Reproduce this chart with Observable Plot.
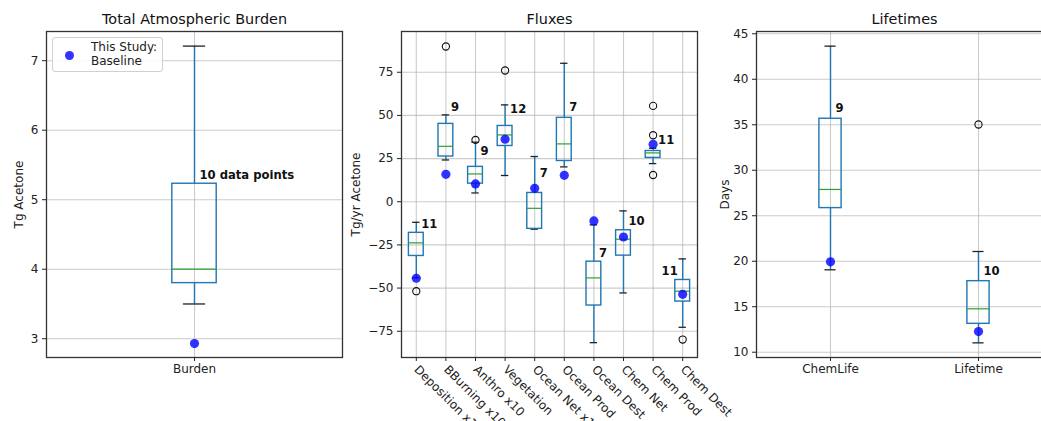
<!DOCTYPE html>
<html><head><meta charset="utf-8">
<script src="https://cdn.jsdelivr.net/npm/d3@7"></script>
<script src="https://cdn.jsdelivr.net/npm/@observablehq/plot@0.6"></script>
<style>
body{margin:0;background:#fff;font-family:"DejaVu Sans",sans-serif;}
#wrap{position:relative;width:1041px;height:421px;overflow:hidden;background:#fff;}
.panel{position:absolute;top:0;}
.panel svg{max-width:none !important;}
#legend{position:absolute;left:52px;top:37px;width:109px;height:33px;border:1px solid #d0d0d0;border-radius:3px;background:rgba(255,255,255,0.85);font:12px "DejaVu Sans";color:#222;}
#legend .dot{position:absolute;left:12px;top:13px;width:9px;height:9px;border-radius:50%;background:rgba(0,0,255,0.8);}
#legend .t{position:absolute;left:38px;line-height:13px;white-space:nowrap;}
</style></head>
<body>
<div id="wrap"></div>
<script>
// ---------- Data ----------
const burdenCats = ["Burden"];
const burdenLo = [3.50];
const burdenQ1 = [3.80];
const burdenMed = [4.00];
const burdenQ3 = [5.23];
const burdenHi = [7.21];
const burdenOutliers = [[]];
const burdenBaseline = [2.93];
const burdenCounts = [10];
const burdenLabelY = [5.35];
const burdenTicks = [3, 4, 5, 6, 7];

const fluxCats = ["Deposition x10","BBurning x10","Anthro x10","Vegetation","Ocean Net x10","Ocean Prod","Ocean Dest","Chem Net","Chem Prod","Chem Dest"];
const fluxLo  = [-44.0, 24.2, 5.1, 15.2, -15.9, 20.2, -81.6, -52.8, 22.1, -72.7];
const fluxQ1  = [-31.4, 26.2, 10.5, 32.3, -15.7, 23.6, -60.1, -31.2, 25.4, -57.8];
const fluxMed = [-23.8, 32.1, 16.1, 38.7, -3.8, 33.5, -44.1, -21.7, 28.3, -51.8];
const fluxQ3  = [-18.0, 45.1, 20.2, 43.9, 5.1, 48.6, -34.7, -16.5, 29.4, -45.3];
const fluxHi  = [-11.9, 50.3, 34.5, 56.1, 26.2, 80.2, -13.4, -5.3, 31.0, -33.1];
const fluxOutliers = [[-51.8],[89.9],[35.8],[76.0],[],[],[],[],[55.5,38.5,15.5],[-79.8]];
const fluxBaseline = [-44.3, 15.9, 10.3, 36.2, 7.8, 15.3, -11.1, -20.4, 33.3, -53.6];
const fluxCounts = [11, 9, 9, 12, 7, 7, 7, 10, 11, 11];
const fluxLabelY = [-13.2, 54.5, 29.1, 53.8, 16.5, 54.7, -29.6, -11.3, 35.4, -40.4];
const fluxTicks = [-75, -50, -25, 0, 25, 50, 75];

const lifeCats = ["ChemLife","Lifetime"];
const lifeLo  = [19.06, 11.03];
const lifeQ1  = [25.84, 13.12];
const lifeMed = [27.89, 14.77];
const lifeQ3  = [35.66, 17.81];
const lifeHi  = [43.64, 21.07];
const lifeOutliers = [[], [35.03]];
const lifeBaseline = [19.94, 12.27];
const lifeCounts = [9, 10];
const lifeLabelY = [36.8, 18.9];
const lifeTicks = [10, 15, 20, 25, 30, 35, 40, 45];

// ---------- Drawing ----------
const BOX = "#1f77b4", MED = "#2ca02c", GRID = "#b0b0b0";
const fmt = d => (d < 0 ? "\u2212" + Math.abs(d) : String(d));

function panel(o) {
  const n = o.cats.length;
  const rows = o.cats.map((c, i) => ({
    pos: i + 1, name: c, lo: o.lo[i], q1: o.q1[i], med: o.med[i], q3: o.q3[i], hi: o.hi[i],
    base: o.base[i], count: o.counts[i], ly: o.labelY[i]
  }));
  const outs = rows.flatMap((r, i) => o.outliers[i].map(v => ({pos: r.pos, v})));
  // matplotlib default box width: min(0.15*max(range,1), 0.5)
  const w = Math.min(0.15 * Math.max(n - 1, 1), 0.5);
  const positions = rows.map(r => r.pos);
  const labelLeft = r => r.name === "Chem Dest";
  return Plot.plot({
    width: o.width, height: 421,
    marginLeft: o.marginLeft, marginRight: o.marginRight, marginTop: 31, marginBottom: 64,
    style: {fontFamily: "DejaVu Sans", fontSize: "12px", color: "#222", background: "transparent", overflow: "visible", maxWidth: "none"},
    x: {type: "linear", domain: [0.5, n + 0.5]},
    y: {domain: o.yDomain},
    marks: [
      Plot.gridY(o.yTicks, {stroke: GRID, strokeOpacity: 0.65, strokeWidth: 1.1}),
      Plot.gridX(positions, {stroke: GRID, strokeOpacity: 0.65, strokeWidth: 1.1}),
      Plot.axisY(o.yTicks, {tickSize: 4, tickPadding: 4, fontSize: 12, tickFormat: fmt, label: o.ylabel, labelAnchor: "center", labelArrow: "none", labelOffset: o.labelOffset}),
      Plot.axisX(positions, {tickSize: 4, tickPadding: o.rotate ? 6 : 3, fontSize: 12, tickRotate: o.rotate || 0,
        tickFormat: p => o.cats[p - 1], label: null}),
      Plot.ruleX(rows, {x: "pos", y1: "q3", y2: "hi", stroke: BOX, strokeWidth: 1.4}),
      Plot.ruleX(rows, {x: "pos", y1: "lo", y2: "q1", stroke: BOX, strokeWidth: 1.4}),
      Plot.ruleY(rows, {y: "hi", x1: d => d.pos - w / 4, x2: d => d.pos + w / 4, stroke: "#222", strokeWidth: 1.3}),
      Plot.ruleY(rows, {y: "lo", x1: d => d.pos - w / 4, x2: d => d.pos + w / 4, stroke: "#222", strokeWidth: 1.3}),
      Plot.rect(rows, {x1: d => d.pos - w / 2, x2: d => d.pos + w / 2, y1: "q1", y2: "q3", fill: "none", stroke: BOX, strokeWidth: 1.4}),
      Plot.ruleY(rows, {y: "med", x1: d => d.pos - w / 2, x2: d => d.pos + w / 2, stroke: MED, strokeWidth: 1.2}),
      Plot.dot(outs, {x: "pos", y: "v", r: 3.6, stroke: "#111", fill: "none", strokeWidth: 1.1}),
      Plot.dot(rows, {x: "pos", y: "base", r: 4.6, fill: "blue", fillOpacity: 0.8, stroke: "none"}),
      Plot.text(rows.filter(r => !labelLeft(r)), {x: "pos", y: "ly", text: d => o.labelFmt(d.count), textAnchor: "start", dx: 5, fontWeight: "bold", fontSize: 11.6, fill: "#111"}),
      Plot.text(rows.filter(labelLeft), {x: "pos", y: "ly", text: d => o.labelFmt(d.count), textAnchor: "end", dx: -5, fontWeight: "bold", fontSize: 11.6, fill: "#111"}),
      Plot.frame({stroke: "#333", strokeWidth: 1.3}),
      Plot.text([o.title], {frameAnchor: "top", dy: -12, lineAnchor: "middle", fontSize: 14.4, fill: "#111"})
    ]
  });
}

const wrap = document.getElementById("wrap");
function place(svg, left, width) {
  const d = document.createElement("div");
  d.className = "panel"; d.style.left = left + "px"; d.style.width = width + "px";
  d.appendChild(svg); wrap.appendChild(d);
}

place(panel({
  cats: burdenCats, lo: burdenLo, q1: burdenQ1, med: burdenMed, q3: burdenQ3, hi: burdenHi,
  outliers: burdenOutliers, base: burdenBaseline, counts: burdenCounts, labelY: burdenLabelY,
  yDomain: [2.73, 7.42], yTicks: burdenTicks, title: "Total Atmospheric Burden", ylabel: "Tg Acetone",
  width: 350, marginLeft: 46, marginRight: 8, labelOffset: 32, labelFmt: c => c + " data points"
}), 0, 350);

place(panel({
  cats: fluxCats, lo: fluxLo, q1: fluxQ1, med: fluxMed, q3: fluxQ3, hi: fluxHi,
  outliers: fluxOutliers, base: fluxBaseline, counts: fluxCounts, labelY: fluxLabelY,
  yDomain: [-90.2, 98.6], yTicks: fluxTicks, title: "Fluxes", ylabel: "Tg/yr Acetone",
  width: 360, marginLeft: 56, marginRight: 8, labelOffset: 50, rotate: 45, labelFmt: c => String(c)
}), 345, 360);

place(panel({
  cats: lifeCats, lo: lifeLo, q1: lifeQ1, med: lifeMed, q3: lifeQ3, hi: lifeHi,
  outliers: lifeOutliers, base: lifeBaseline, counts: lifeCounts, labelY: lifeLabelY,
  yDomain: [9.42, 45.25], yTicks: lifeTicks, title: "Lifetimes", ylabel: "Days",
  width: 360, marginLeft: 56, marginRight: 8, labelOffset: 36, labelFmt: c => String(c)
}), 700, 360);

// legend
const lg = document.createElement("div");
lg.id = "legend";
lg.innerHTML = '<div class="dot"></div><div class="t" style="top:3px">This Study:</div><div class="t" style="top:17px">Baseline</div>';
wrap.appendChild(lg);
</script>
</body></html>
